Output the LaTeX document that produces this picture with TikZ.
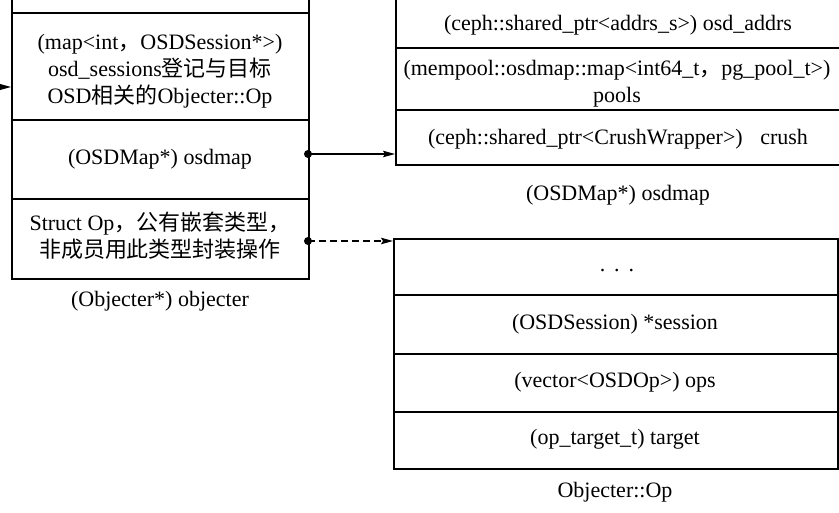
\documentclass[tikz,border=0pt]{standalone}
\usepackage{fontspec}
\setmainfont{Liberation Serif}
\newfontfamily\cjk{Noto Sans CJK SC}
\usetikzlibrary{arrows.meta,calc}
\begin{document}
\begin{tikzpicture}[x=1pt,y=-1pt,
  cell/.style={draw, line width=1.8pt, anchor=north west, inner sep=0pt},
  lcell/.style={cell, minimum width=297pt},
  rcell/.style={cell, minimum width=447pt},
  bcell/.style={cell, minimum width=444pt},
  txt/.style={font=\fontsize{22}{27}\selectfont, align=center, inner sep=0pt},
  link/.style={line width=1.2pt, -{Stealth[length=12pt,width=6.5pt,inset=2pt]}},
  dashlink/.style={link, dash pattern=on 7pt off 4pt},
  dotmark/.style={circle, fill, inner sep=0pt, minimum size=8pt},
]
\useasboundingbox (0,0) rectangle (839,513);
\clip (0,0) rectangle (839,513);
\fill[white] (0,0) rectangle (839,513);

% ---- Objecter (left) ----
\node[lcell, minimum height=32pt]  (L0) at (11,-20) {};
\node[lcell, minimum height=107pt] (L1) at (11,12) {};
\node[lcell, minimum height=79pt]  (L2) at (11,119) {};
\node[lcell, minimum height=80pt]  (L3) at (11,198) {};
\node[txt] (tL1) at (160,71) {(map<int{\cjk ，}OSDSession*>)\\osd\_sessions{\cjk 登记与目标}\\OSD{\cjk 相关的}Objecter::Op};
\node[txt] (tL2) at (160,159) {(OSDMap*) osdmap};
\node[txt] (tL3) at (160,236) {Struct Op{\cjk ，公有嵌套类型，}\\{\cjk 非成员用此类型封装操作}};
\node[txt] (capL) at (160,301) {(Objecter*) objecter};

% ---- OSDMap (top right) ----
\node[rcell, minimum height=67pt] (R0) at (395,-20) {};
\node[rcell, minimum height=62pt] (R1) at (395,47) {};
\node[rcell, minimum height=55pt] (R2) at (395,109) {};
\node[txt] (tR0) at (618,25) {(ceph::shared\_ptr<addrs\_s>) osd\_addrs};
\node[txt] (tR1) at (617,84) {(mempool::osdmap::map<int64\_t{\cjk ，}pg\_pool\_t>)\\pools};
\node[txt] (tR2) at (618,139) {(ceph::shared\_ptr<CrushWrapper>)\hspace{0.8em}crush};
\node[txt] (capR) at (618,195) {(OSDMap*) osdmap};

% ---- Objecter::Op (bottom right) ----
\node[bcell, minimum height=56pt] (B0) at (393,238) {};
\node[bcell, minimum height=59pt] (B1) at (393,294) {};
\node[bcell, minimum height=58pt] (B2) at (393,353) {};
\node[bcell, minimum height=57pt] (B3) at (393,411) {};
\node[txt] (tB0) at (617,271) {.\hspace{0.4em}.\hspace{0.4em}.};
\node[txt] (tB1) at (615,324) {(OSDSession) *session};
\node[txt] (tB2) at (615,382) {(vector<OSDOp>) ops};
\node[txt] (tB3) at (615,439) {(op\_target\_t) target};
\node[txt] (capB) at (615,492) {Objecter::Op};

% ---- connectors ----
\coordinate (in0) at (-5,87);
\draw[link] (in0) -- (in0 -| L1.west);

\coordinate (d1) at (308,154);
\draw[link] (d1) -- (d1 -| R2.west);
\node[dotmark] (d1m) at (d1) {};

\coordinate (d2) at (308,241);
\draw[dashlink] (d2) -- (d2 -| B0.west);
\node[dotmark] (d2m) at (d2) {};
\end{tikzpicture}
\end{document}
